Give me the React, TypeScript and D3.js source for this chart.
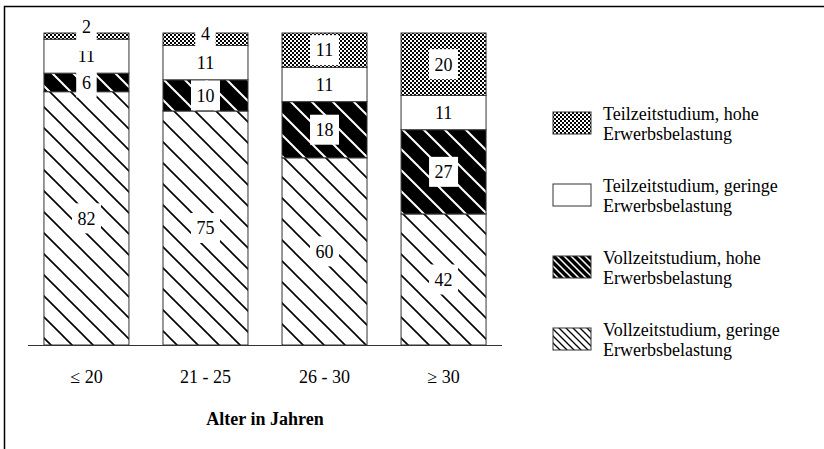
import React from "react";
import * as d3 from "d3";

const categories = ["≤ 20", "21 - 25", "26 - 30", "≥ 30"];
const seriesKeys = ["vollGering", "vollHoch", "teilGering", "teilHoch"];
const seriesLabels = [
  ["Vollzeitstudium, geringe", "Erwerbsbelastung"],
  ["Vollzeitstudium, hohe", "Erwerbsbelastung"],
  ["Teilzeitstudium, geringe", "Erwerbsbelastung"],
  ["Teilzeitstudium, hohe", "Erwerbsbelastung"],
];
const vollGering = [82, 75, 60, 42];
const vollHoch = [6, 10, 18, 27];
const teilGering = [11, 11, 11, 11];
const teilHoch = [2, 4, 11, 20];
const axisTitle = "Alter in Jahren";

const W = 824;
const H = 449;
const FONT = "Liberation Serif, DejaVu Serif, serif";

const rows = categories.map((c, i) => ({
  cat: c,
  vollGering: vollGering[i],
  vollHoch: vollHoch[i],
  teilGering: teilGering[i],
  teilHoch: teilHoch[i],
}));

const fills = ["url(#hatchLight)", "url(#hatchDark)", "#ffffff", "url(#checker)"];
const legendFills = ["url(#hatchLightS)", "url(#hatchDarkS)", "#ffffff", "url(#checkerS)"];

function hatchPath(w: number) {
  return `M-2,-2 L${w + 2},${w + 2} M-2,${w - 2} L2,${w + 2} M${w - 2},-2 L${w + 2},2`;
}

export default function App() {
  const x = d3
    .scaleBand<string>()
    .domain(categories)
    .range([28, 502])
    .paddingInner(0.286)
    .paddingOuter(0.134);
  const y = d3.scaleLinear().domain([0, 1]).range([345, 33]);
  const stack = d3.stack<any>().keys(seriesKeys).offset(d3.stackOffsetExpand);
  const series = stack(rows);

  const boxes: any[] = [];
  series.forEach((s, si) => {
    s.forEach((d: any, i: number) => {
      const yb = y(d[0]);
      const yt = y(d[1]);
      const mid = (yb + yt) / 2;
      const h = yb - yt;
      const v = (rows[i] as any)[seriesKeys[si]];
      const txt = String(v);
      const tw = txt.length * 8.5 + 12;
      const ty = h < 14 ? yb - 12 : mid;
      boxes.push({ key: `${si}-${i}`, cx: (x(categories[i]) as number) + x.bandwidth() / 2, mid, ty, tw, txt });
    });
  });

  const legendOrder = [3, 2, 1, 0];
  const ts = { fontFamily: FONT } as React.CSSProperties;

  return (
    <svg width={W} height={H} style={{ position: "absolute", left: 0, top: 0, background: "#fff", fontFamily: FONT }}>
      <defs>
        <pattern id="checker" patternUnits="userSpaceOnUse" width={4} height={4}>
          <rect width={4} height={4} fill="#fff" />
          <rect width={2} height={2} fill="#000" />
          <rect x={2} y={2} width={2} height={2} fill="#000" />
        </pattern>
        <pattern id="checkerS" patternUnits="userSpaceOnUse" width={4} height={4}>
          <rect width={4} height={4} fill="#fff" />
          <rect width={2} height={2} fill="#000" />
          <rect x={2} y={2} width={2} height={2} fill="#000" />
        </pattern>
        <pattern id="hatchLight" patternUnits="userSpaceOnUse" width={21} height={21}>
          <rect width={21} height={21} fill="#fff" />
          <path d={hatchPath(21)} stroke="#000" strokeWidth={1.6} />
        </pattern>
        <pattern id="hatchDark" patternUnits="userSpaceOnUse" width={21} height={21}>
          <rect width={21} height={21} fill="#000" />
          <path d={hatchPath(21)} stroke="#fff" strokeWidth={2} />
        </pattern>
        <pattern id="hatchLightS" patternUnits="userSpaceOnUse" width={7} height={7}>
          <rect width={7} height={7} fill="#fff" />
          <path d={hatchPath(7)} stroke="#000" strokeWidth={1.3} />
        </pattern>
        <pattern id="hatchDarkS" patternUnits="userSpaceOnUse" width={7} height={7}>
          <rect width={7} height={7} fill="#000" />
          <path d={hatchPath(7)} stroke="#fff" strokeWidth={1.5} />
        </pattern>
      </defs>

      <path d={`M4.5,${H} L4.5,6.5 L${W},6.5`} fill="none" stroke="#000" strokeWidth={1.5} />

      {series.map((s, si) => (
        <g key={si}>
          {s.map((d: any, i: number) => (
            <rect
              key={i}
              x={x(categories[i])}
              y={y(d[1])}
              width={x.bandwidth()}
              height={y(d[0]) - y(d[1])}
              fill={fills[si]}
              stroke="#333"
              strokeWidth={1}
            />
          ))}
        </g>
      ))}

      {boxes.map((b) => (
        <g key={b.key}>
          <rect x={b.cx - b.tw / 2} y={b.mid - 15} width={b.tw} height={30} fill="#fff" />
          <text x={b.cx} y={b.ty} dy="0.35em" textAnchor="middle" fontSize={18} fill="#000" style={ts}>
            {b.txt}
          </text>
        </g>
      ))}

      <line x1={28} x2={502} y1={345.5} y2={345.5} stroke="#333" strokeWidth={1.2} />

      {categories.map((c) => (
        <text
          key={c}
          x={(x(c) as number) + x.bandwidth() / 2}
          y={383}
          textAnchor="middle"
          fontSize={18}
          fill="#000"
          style={ts}
        >
          {c}
        </text>
      ))}

      <text x={265} y={425} textAnchor="middle" fontSize={18} fontWeight="bold" fill="#000" style={ts}>
        {axisTitle}
      </text>

      {legendOrder.map((si, k) => {
        const ly = 112 + k * 72;
        return (
          <g key={si}>
            <rect x={553} y={ly} width={38} height={22} fill={legendFills[si]} stroke="#333" strokeWidth={1} />
            <text x={603} y={ly + 8} fontSize={18} fill="#000" style={ts}>
              {seriesLabels[si][0]}
            </text>
            <text x={603} y={ly + 28} fontSize={18} fill="#000" style={ts}>
              {seriesLabels[si][1]}
            </text>
          </g>
        );
      })}
    </svg>
  );
}
